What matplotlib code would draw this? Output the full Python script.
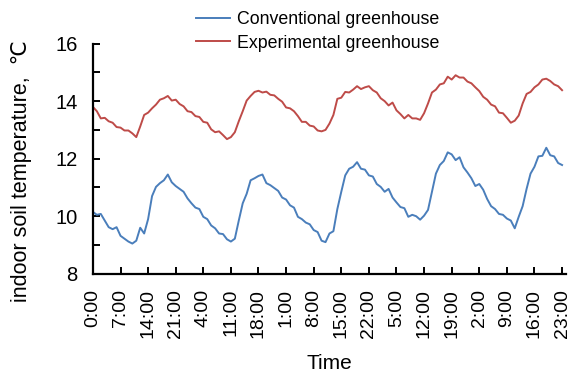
import matplotlib
matplotlib.use("Agg")
import matplotlib.pyplot as plt
from matplotlib.ticker import MultipleLocator

plt.rcParams['font.family'] = ['Liberation Sans', 'DejaVu Sans']

# hourly readings over five days, starting at 0:00
hours = list(range(120))

conventional = [
    10.15, 10.05, 10.08, 9.85, 9.62, 9.55, 9.62, 9.32, 9.22, 9.12,
    9.05, 9.15, 9.60, 9.40, 9.90, 10.70, 11.02, 11.15, 11.25, 11.45,
    11.18, 11.05, 10.95, 10.85, 10.62, 10.45, 10.30, 10.25, 9.98, 9.90,
    9.68, 9.58, 9.40, 9.38, 9.20, 9.12, 9.22, 9.85, 10.45, 10.78,
    11.25, 11.32, 11.40, 11.45, 11.15, 11.08, 10.98, 10.88, 10.65, 10.58,
    10.38, 10.30, 9.98, 9.90, 9.78, 9.72, 9.52, 9.45, 9.15, 9.10,
    9.40, 9.48, 10.25, 10.85, 11.42, 11.65, 11.72, 11.88, 11.65, 11.62,
    11.42, 11.38, 11.12, 11.02, 10.85, 10.95, 10.65, 10.48, 10.32, 10.28,
    9.98, 10.05, 10.00, 9.88, 10.02, 10.22, 10.85, 11.48, 11.78, 11.92,
    12.22, 12.15, 11.95, 12.05, 11.70, 11.52, 11.32, 11.05, 11.12, 10.92,
    10.60, 10.35, 10.25, 10.08, 10.05, 9.92, 9.85, 9.58, 9.98, 10.35,
    10.95, 11.48, 11.72, 12.08, 12.10, 12.38, 12.12, 12.08, 11.85, 11.78,
]

experimental = [
    13.80, 13.65, 13.40, 13.42, 13.30, 13.25, 13.10, 13.08, 12.98, 12.98,
    12.88, 12.75, 13.12, 13.52, 13.60, 13.75, 13.88, 14.05, 14.10, 14.18,
    14.02, 14.05, 13.90, 13.82, 13.65, 13.62, 13.48, 13.45, 13.28, 13.25,
    13.02, 12.92, 12.95, 12.82, 12.68, 12.75, 12.92, 13.30, 13.65, 14.02,
    14.18, 14.32, 14.36, 14.30, 14.33, 14.22, 14.20, 14.08, 13.98, 13.78,
    13.75, 13.65, 13.48, 13.28, 13.28, 13.15, 13.12, 12.98, 12.95, 13.00,
    13.22, 13.52, 14.08, 14.12, 14.32, 14.30, 14.40, 14.52, 14.42, 14.48,
    14.52, 14.38, 14.30, 14.10, 14.00, 13.85, 13.95, 13.68, 13.55, 13.40,
    13.52, 13.40, 13.40, 13.35, 13.58, 13.92, 14.30, 14.40, 14.58, 14.62,
    14.85, 14.75, 14.90, 14.82, 14.82, 14.68, 14.62, 14.48, 14.35, 14.15,
    14.05, 13.88, 13.82, 13.60, 13.58, 13.42, 13.25, 13.32, 13.50, 13.92,
    14.25, 14.32, 14.48, 14.58, 14.75, 14.78, 14.70, 14.58, 14.52, 14.38,
]

tick_hours = list(range(0, 120, 7))
tick_labels = ["0:00", "7:00", "14:00", "21:00", "4:00", "11:00", "18:00",
               "1:00", "8:00", "15:00", "22:00", "5:00", "12:00", "19:00",
               "2:00", "9:00", "16:00", "23:00"]

fig = plt.figure(figsize=(5.7, 3.79), dpi=100)
ax = fig.add_axes([0.163, 0.2776, 0.830, 0.6074])

ax.plot(hours, conventional, color='#4a7ebb', lw=1.4, label='Conventional greenhouse')
ax.plot(hours, experimental, color='#be4b48', lw=1.4, label='Experimental greenhouse')

ax.set_xlim(0, 120)
ax.set_ylim(8, 16)
ax.set_xticks(tick_hours)
ax.set_xticklabels(tick_labels, rotation=90)
ax.yaxis.set_major_locator(MultipleLocator(2))
ax.yaxis.set_minor_locator(MultipleLocator(1))

for side in ['top', 'right']:
    ax.spines[side].set_visible(False)
for side in ['left', 'bottom']:
    ax.spines[side].set_linewidth(1.6)

ax.tick_params(which='both', direction='in', length=5, width=1.4, pad=11)
ax.tick_params(axis='x', labelsize=14)
ax.tick_params(axis='y', labelsize=14.5)

ax.set_ylabel('indoor soil temperature,  ℃', fontsize=15.5)
ax.yaxis.set_label_coords(-0.128, 0.446)
ax.set_xlabel('Time', fontsize=15)
ax.xaxis.set_label_coords(0.5, -0.35)

fig.legend(loc='center left', bbox_to_anchor=(196 / 570, 1 - 31.5 / 379),
           frameon=False, fontsize=12.75, handlelength=1.9, handletextpad=0.4,
           labelspacing=0.35, borderpad=0, borderaxespad=0)

fig.savefig('out.png', dpi=100)
